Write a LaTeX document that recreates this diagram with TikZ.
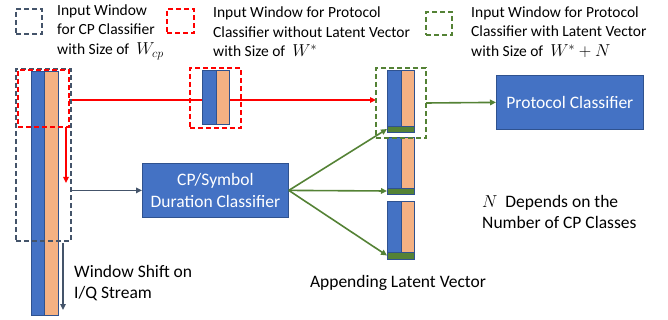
\documentclass[tikz,border=0pt]{standalone}
\usepackage{fontspec}
\setmainfont{Carlito}
\usetikzlibrary{arrows.meta}
\pgfdeclarelayer{background}
\pgfsetlayers{background,main}
\definecolor{dkgray}{HTML}{44546A}
\definecolor{myred}{HTML}{FF0000}
\definecolor{mygreen}{HTML}{548235}
\definecolor{myblue}{HTML}{4472C4}
\definecolor{myblueb}{HTML}{2F528F}
\definecolor{myorange}{HTML}{F4B183}
\newcommand{\lgmath}[1]{{\fontsize{17.5}{19}\selectfont$#1$}}
\tikzset{
  cell/.style={draw=myblueb, line width=0.8pt, inner sep=0pt, outer sep=0pt, anchor=north west},
  bcol/.style={cell, fill=myblue},
  ocol/.style={cell, fill=myorange},
  gbar/.style={cell, fill=mygreen},
  win/.style={dashed, dash pattern=on 5pt off 3pt, line width=1.6pt, inner sep=0pt, outer sep=0pt, anchor=north west},
  cpwin/.style={win, draw=dkgray},
  redwin/.style={win, draw=myred},
  grnwin/.style={win, draw=mygreen},
  clsbox/.style={draw=myblueb, fill=myblue, line width=0.8pt, inner sep=0pt, anchor=north west, text=white, align=center, font=\fontsize{17.5}{22}\selectfont},
  lgd/.style={align=left, anchor=west, inner sep=0pt, font=\fontsize{15.5}{19.5}\selectfont},
  lbl/.style={align=left, anchor=west, inner sep=0pt, font=\fontsize{17.5}{21}\selectfont},
  tip/.style={-{Triangle[length=6pt,width=5.5pt]}},
  conn/.style={line width=1.6pt, tip},
}
\begin{document}
\begin{tikzpicture}[x=1pt,y=-1pt]
\useasboundingbox (0,0) rectangle (668,320);
% legend
\node[cpwin, minimum width=26pt, minimum height=25pt] (lg1) at (16,9) {};
\node[lgd] (lt1) at (57,32) {Input Window\\for CP Classifier\\with Size of \ \lgmath{W_{cp}}};
\node[redwin, minimum width=27pt, minimum height=24pt] (lg2) at (167,9) {};
\node[lgd] (lt2) at (213,32) {Input Window for Protocol\\Classifier without Latent Vector\\with Size of \ \lgmath{W^{*}}};
\node[grnwin, minimum width=26pt, minimum height=23pt] (lg3) at (426,12) {};
\node[lgd] (lt3) at (471,32) {Input Window for Protocol\\Classifier with Latent Vector\\with Size of \ \lgmath{W^{*}+N}};

\coordinate (shiftend) at (66,183);
\coordinate (ws1) at (63,243);
\coordinate (ws2) at (63,310);

% left stream
\node[bcol, minimum width=13pt, minimum height=244pt] (s1) at (31,71) {};
\node[ocol, minimum width=14pt, minimum height=244pt] (s2) at (44,71) {};

% middle red window
\node[bcol, minimum width=14pt, minimum height=54pt] (m1) at (202,70) {};
\node[ocol, minimum width=13pt, minimum height=54pt] (m2) at (216,70) {};

% appended columns
\node[bcol, minimum width=14pt, minimum height=56pt] (a1b) at (387,70) {};
\node[ocol, minimum width=13pt, minimum height=56pt] (a1o) at (401,70) {};
\node[gbar, minimum width=27pt, minimum height=6pt] (g1) at (387,126) {};
\node[bcol, minimum width=14pt, minimum height=51pt] (a2b) at (387,137) {};
\node[ocol, minimum width=13pt, minimum height=51pt] (a2o) at (401,137) {};
\node[gbar, minimum width=27pt, minimum height=6pt] (g2) at (387,188) {};
\node[bcol, minimum width=14pt, minimum height=51pt] (a3b) at (387,201) {};
\node[ocol, minimum width=13pt, minimum height=51pt] (a3o) at (401,201) {};
\node[gbar, minimum width=27pt, minimum height=7pt] (g3) at (387,252) {};

% windows
\node[cpwin, minimum width=55pt, minimum height=172pt] (cpw) at (16,69) {};
\node[redwin, minimum width=51pt, minimum height=57pt] (rw1) at (18,70) {};
\node[redwin, minimum width=51pt, minimum height=60pt] (rw2) at (190,68) {};
\node[grnwin, minimum width=50pt, minimum height=70pt] (gw) at (376,68) {};

% classifiers
\node[clsbox, minimum width=146pt, minimum height=54pt] (cp) at (142,163) {CP/Symbol\\Duration Classifier};
\node[clsbox, minimum width=147pt, minimum height=54pt] (pc) at (496,75) {Protocol Classifier};

% connectors
\begin{pgfonlayer}{background}
\draw[myred, conn] ([yshift=-1.5pt]rw1.east) -- ([yshift=-1.5pt]rw1.east -| gw.west);
\end{pgfonlayer}
\draw[myred, conn] ([xshift=-3pt]rw1.south east) -- (shiftend);
\draw[dkgray, conn] (cp.west -| cpw.east) -- (cp.west);
\draw[dkgray, conn] (ws1) -- (ws2);
\draw[mygreen, conn] (gw.east) -- (pc.west);
\draw[mygreen, conn] (cp.east) -- (g1.west);
\draw[mygreen, conn] (cp.east) -- (g2.west);
\draw[mygreen, conn] (cp.east) -- (g3.west);

% texts
\node[lbl] (wst) at (74,283) {Window Shift on\\I/Q Stream};
\node[lbl, anchor=center] (alv) at (398,283) {Appending Latent Vector};
\node[lbl] (ndep) at (482,212) {\lgmath{N} \ Depends on the\\Number of CP Classes};
\end{tikzpicture}
\end{document}
